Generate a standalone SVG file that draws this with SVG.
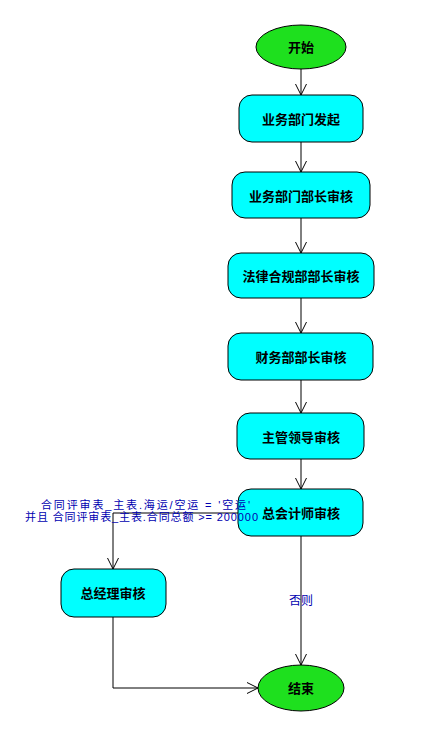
<svg xmlns="http://www.w3.org/2000/svg" width="436" height="741" viewBox="0 0 436 741">
  <style>
    .bg { fill: #ffffff; }
    .term { fill: #1ee01e; stroke: #000000; stroke-width: 1; }
    .act { fill: #00ffff; stroke: #000000; stroke-width: 1; }
    .nt { font-family: "Noto Sans CJK SC", "Liberation Sans", sans-serif; font-size: 13px; font-weight: bold; fill: #000000; text-anchor: middle; dominant-baseline: central; }
    .edge { fill: none; stroke: #000000; stroke-width: 1; }
    .lbl { font-family: "Liberation Sans", "Noto Sans CJK SC", sans-serif; font-size: 12px; fill: #0000b0; }
    .cond { font-size: 11px; }
  </style>
  <defs>
    <marker id="arrow" markerUnits="userSpaceOnUse" markerWidth="13" markerHeight="12" refX="11" refY="6" orient="auto">
      <path d="M0,0.5 L11,6 L0,11.5" fill="none" stroke="#000000" stroke-width="1"/>
    </marker>
  </defs>
  <rect class="bg" x="0" y="0" width="436" height="741"/>

  <!-- connectors -->
  <g id="connectors">
    <line class="edge" x1="301" y1="69" x2="301" y2="95" marker-end="url(#arrow)"/>
    <line class="edge" x1="301" y1="142" x2="301" y2="172" marker-end="url(#arrow)"/>
    <line class="edge" x1="301" y1="218" x2="301" y2="253" marker-end="url(#arrow)"/>
    <line class="edge" x1="301" y1="298" x2="301" y2="333" marker-end="url(#arrow)"/>
    <line class="edge" x1="301" y1="380" x2="301" y2="413" marker-end="url(#arrow)"/>
    <line class="edge" x1="301" y1="459" x2="301" y2="489" marker-end="url(#arrow)"/>
    <line class="edge" x1="301" y1="536" x2="301" y2="665" marker-end="url(#arrow)"/>
    <polyline class="edge" points="238,513 113,513 113,569" marker-end="url(#arrow)"/>
    <polyline class="edge" points="113,617 113,688 258,688" marker-end="url(#arrow)"/>
  </g>

  <!-- nodes -->
  <g id="start">
    <ellipse class="term" cx="301" cy="47" rx="45" ry="22"/>
    <text class="nt" x="301" y="46">开始</text>
  </g>
  <g id="dept-initiate">
    <rect class="act" x="239" y="95" width="124" height="47" rx="13" ry="13"/>
    <text class="nt" x="301" y="118">业务部门发起</text>
  </g>
  <g id="dept-head-review">
    <rect class="act" x="232" y="172" width="138" height="46" rx="13" ry="13"/>
    <text class="nt" x="301" y="195">业务部门部长审核</text>
  </g>
  <g id="legal-review">
    <rect class="act" x="228" y="253" width="146" height="45" rx="13" ry="13"/>
    <text class="nt" x="301" y="275">法律合规部部长审核</text>
  </g>
  <g id="finance-review">
    <rect class="act" x="228" y="333" width="145" height="47" rx="13" ry="13"/>
    <text class="nt" x="301" y="356">财务部部长审核</text>
  </g>
  <g id="leader-review">
    <rect class="act" x="237" y="413" width="127" height="46" rx="13" ry="13"/>
    <text class="nt" x="301" y="436">主管领导审核</text>
  </g>
  <g id="cfo-review">
    <rect class="act" x="238" y="489" width="125" height="47" rx="13" ry="13"/>
    <text class="nt" x="301" y="512">总会计师审核</text>
  </g>
  <g id="gm-review">
    <rect class="act" x="61" y="569" width="105" height="48" rx="13" ry="13"/>
    <text class="nt" x="113" y="592">总经理审核</text>
  </g>
  <g id="end">
    <ellipse class="term" cx="301" cy="688" rx="43" ry="23"/>
    <text class="nt" x="301" y="687">结束</text>
  </g>

  <!-- connector labels -->
  <g id="labels">
    <text class="lbl cond" x="41" y="509" textLength="209" lengthAdjust="spacing">合同评审表_主表.海运/空运  =  '空运'</text>
    <text class="lbl cond" x="25" y="521" textLength="233" lengthAdjust="spacing">并且 合同评审表_主表.合同总额  &gt;= 200000</text>
    <text class="lbl" x="301" y="605" text-anchor="middle">否则</text>
  </g>
</svg>
